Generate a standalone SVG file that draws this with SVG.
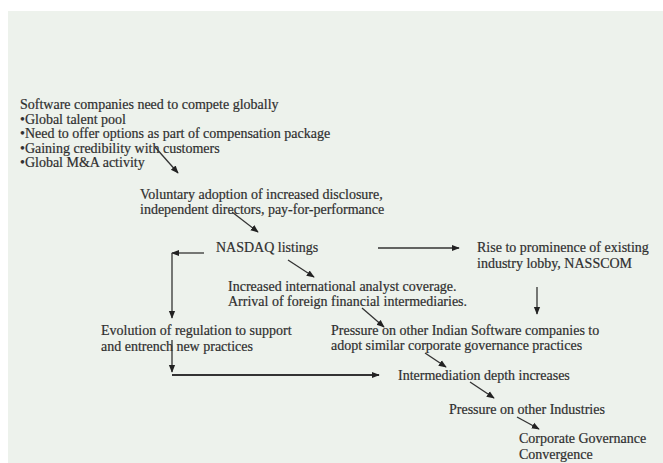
<svg xmlns="http://www.w3.org/2000/svg" width="663" height="463" viewBox="0 0 663 463">
<style>
text{font-family:"Liberation Serif","Times New Roman",serif;font-size:14px;fill:#2f2f2f;stroke:#2f2f2f;stroke-width:0.2}
.c{stroke:#333;stroke-width:1.3;fill:none}
.t{stroke-width:2}
</style>
<defs>
<marker id="ah" viewBox="0 0 10 10" refX="9" refY="5" markerWidth="8" markerHeight="8" markerUnits="userSpaceOnUse" orient="auto">
<path d="M0,1 L10,5 L0,9 Z" fill="#222"/>
</marker>
</defs>
<rect x="0" y="0" width="663" height="463" fill="#ffffff"/>
<rect x="8" y="11" width="655" height="452" fill="#edf2ec"/>
<g id="n-compete">
<text x="20" y="109">Software companies need to compete globally</text>
<text x="20" y="123.5">•Global talent pool</text>
<text x="20" y="138">•Need to offer options as part of compensation package</text>
<text x="20" y="152.5">•Gaining credibility with customers</text>
<text x="20" y="167">•Global M&amp;A activity</text>
</g>
<g id="n-voluntary">
<text x="140" y="199">Voluntary adoption of increased disclosure,</text>
<text x="140" y="214">independent directors, pay-for-performance</text>
</g>
<g id="n-nasdaq"><text x="216" y="252">NASDAQ listings</text></g>
<g id="n-rise">
<text x="477" y="252">Rise to prominence of existing</text>
<text x="477" y="268">industry lobby, NASSCOM</text>
</g>
<g id="n-analyst">
<text x="228" y="291">Increased international analyst coverage.</text>
<text x="228" y="305.5">Arrival of foreign financial intermediaries.</text>
</g>
<g id="n-regulation">
<text x="101" y="335">Evolution of regulation to support</text>
<text x="101" y="351">and entrench new practices</text>
</g>
<g id="n-pressure-sw">
<text x="331" y="335">Pressure on other Indian Software companies to</text>
<text x="331" y="350">adopt similar corporate governance practices</text>
</g>
<g id="n-intermediation"><text x="398" y="380">Intermediation depth increases</text></g>
<g id="n-pressure-ind"><text x="449" y="414">Pressure on other Industries</text></g>
<g id="n-convergence">
<text x="519" y="442.5">Corporate Governance</text>
<text x="519" y="459">Convergence</text>
</g>
<g id="connectors">
<line class="c" x1="155" y1="147" x2="178" y2="173" marker-end="url(#ah)"/>
<line class="c" x1="232" y1="212" x2="258" y2="232" marker-end="url(#ah)"/>
<line class="c" x1="204" y1="253" x2="172" y2="253" marker-end="url(#ah)"/>
<line class="c" x1="172" y1="253" x2="172" y2="318" marker-end="url(#ah)"/>
<line class="c" x1="172" y1="340" x2="172" y2="372" marker-end="url(#ah)"/>
<line class="c t" x1="172" y1="375" x2="379" y2="375" marker-end="url(#ah)"/>
<line class="c" x1="378" y1="248" x2="459" y2="248" marker-end="url(#ah)"/>
<line class="c" x1="537" y1="287" x2="537" y2="314" marker-end="url(#ah)"/>
<line class="c" x1="288" y1="260" x2="314" y2="277" marker-end="url(#ah)"/>
<line class="c" x1="362" y1="308" x2="384" y2="327" marker-end="url(#ah)"/>
<line class="c" x1="425" y1="353" x2="446" y2="367" marker-end="url(#ah)"/>
<line class="c" x1="470" y1="382" x2="494" y2="398" marker-end="url(#ah)"/>
<line class="c" x1="517" y1="417" x2="539" y2="429" marker-end="url(#ah)"/>
</g>
</svg>
